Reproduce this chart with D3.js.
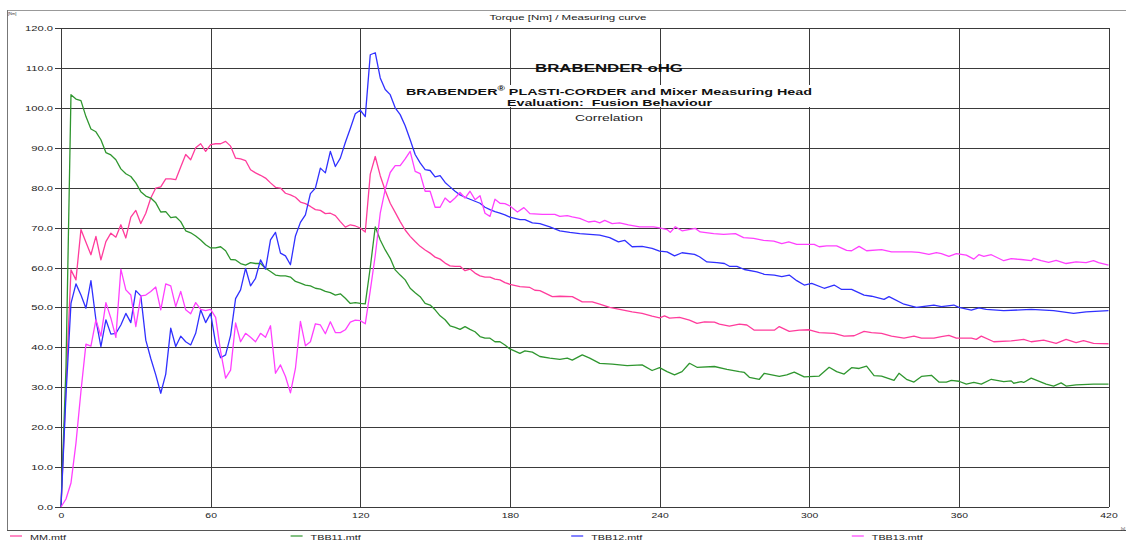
<!DOCTYPE html>
<html>
<head>
<meta charset="utf-8">
<script src="https://cdn.jsdelivr.net/npm/d3@7"></script>
<style>
  body { margin: 0; background: #fff; }
  svg { display: block; font-family: "Liberation Sans", Arial, sans-serif; }
  .grid line { stroke: #3a3a3a; stroke-width: 1; shape-rendering: crispEdges; }
  .axis line { stroke: #3a3a3a; shape-rendering: crispEdges; }
  .axis text { font-size: 8px; fill: #222; }
  .line { fill: none; stroke-width: 1.3; stroke-linejoin: round; }
  .pre { white-space: pre; }
</style>
</head>
<body>
<script>
// Brabender measuring curve: torque [Nm] against time [s]

// Tick labels
var xTicks = [0, 60, 120, 180, 240, 300, 360, 420];
var yTicks = [0, 10, 20, 30, 40, 50, 60, 70, 80, 90, 100, 110, 120];

// Series names and colours (legend order)
var seriesNames = ["MM.mtf", "TBB11.mtf", "TBB12.mtf", "TBB13.mtf"];
var seriesColors = ["#ff3c9c", "#2f962f", "#3030ff", "#ff40ff"];

// Series values, [time s, torque Nm]
var mmData = [[0,0],[2,30],[4,59.4],[6,56.9],[8,69.5],[10,66.3],[12,63.2],[14,67.8],[16,61.9],[18,66.5],[20,68.6],[22,67.6],[24,70.7],[26,67.4],[28,72.6],[30,74.3],[32,71],[34,73.6],[36,77.4],[38,79.9],[40,80.2],[42,82.2],[44,82.2],[46,82],[48,85.2],[50,88.3],[52,87],[54,90],[56,91],[58,89.1],[60,90.8],[62,91],[64,91],[66,91.6],[68,90.4],[70,87.4],[72,87.2],[74,86.8],[76,84.5],[78,83.7],[80,83.1],[82,82.4],[84,81.2],[86,80.1],[88,79.9],[90,78.6],[92,78.2],[94,77.6],[96,76.4],[98,76],[100,75.3],[102,74.5],[104,74.3],[106,73.5],[108,73.6],[110,73],[112,71.5],[114,70.1],[116,70.7],[118,70.4],[120,69.9],[122,68.9],[124,83.4],[126,87.8],[128,83],[130,79.3],[132,76.1],[134,73.8],[136,71.5],[138,69.4],[140,67.8],[142,66.5],[144,65.3],[146,64.4],[148,63.6],[150,62.6],[152,62.1],[154,61.1],[156,60.4],[158,60.3],[160,60.3],[162,59.2],[164,59.6],[166,58.6],[168,57.9],[170,57.6],[172,57.6],[174,57.1],[176,56.9],[178,56.2],[180,55.8],[184,55.2],[188,55],[190,54.3],[192,54.2],[197,52.7],[200,52.8],[205,52.7],[209,51.4],[213,51.4],[216,50.8],[220,50],[224,49.5],[229,48.9],[233,48.5],[237,47.8],[240,47.4],[242,47.9],[244,47.3],[248,47.5],[252,46.8],[255,46],[258,46.4],[262,46.3],[264,45.8],[268,45.3],[272,45.8],[275,45.6],[278,44.3],[286,44.3],[288,45.2],[292,44],[296,44.3],[300,44.4],[304,43.7],[310,43.5],[314,42.8],[318,42.9],[322,44],[325,43.7],[329,43.5],[333,42.8],[338,42.3],[342,42.8],[345,42.3],[350,42.3],[353,42.7],[356,43],[359,42.3],[365,42.3],[367,42],[369,42.8],[374,41.4],[381,41.6],[386,42],[389,41.4],[394,41.8],[399,41],[403,42],[407,41.2],[410,41.7],[414,41],[420,40.9]];

var tbb11Data = [[0,0],[2,35],[4,103.3],[6,102.2],[8,101.8],[10,97.8],[12,94.7],[14,94],[16,92],[18,88.8],[20,88.2],[22,87],[24,84.7],[26,83.5],[28,82.8],[30,81.2],[32,79],[34,77.9],[36,77.4],[38,76.2],[40,73.9],[42,74],[44,72.5],[46,72.7],[48,71.5],[50,69.2],[52,68.7],[54,67.9],[56,66.9],[58,65.7],[60,64.9],[62,64.9],[64,65.2],[66,64.2],[68,62],[70,61.9],[72,61],[74,60.6],[76,61.2],[78,61],[80,61],[82,59.8],[84,59],[86,58.1],[88,57.9],[90,57.9],[92,57.6],[94,56.5],[96,56.1],[98,55.6],[100,55.4],[102,54.8],[104,54.6],[106,54],[108,53.7],[110,53.1],[112,53.4],[114,52.3],[116,51],[118,51.2],[120,51],[122,50.9],[124,60],[126,70.2],[128,66.9],[130,64.4],[132,62.3],[134,59.4],[136,58.1],[138,56.9],[140,54.8],[142,53.7],[144,52.7],[146,51],[148,50.6],[150,49.4],[152,47.9],[154,46.9],[156,45.4],[158,45],[160,44.5],[162,45.2],[164,44.5],[166,43.9],[168,42.7],[170,42.3],[172,42.3],[174,41.4],[176,41.4],[178,40.6],[180,39.6],[184,38.5],[186,39.1],[189,38.8],[192,37.7],[196,37.3],[200,37],[203,37.3],[205,36.8],[209,38.1],[212,37.3],[216,36],[221,35.8],[227,35.4],[233,35.6],[237,34.2],[240,34.9],[243,33.9],[246,33.1],[249,33.9],[252,36],[255,35],[262,35.2],[267,34.5],[272,33.9],[274,33.7],[276,32.5],[280,32],[282,33.5],[288,32.7],[291,33.1],[294,33.8],[298,32.6],[304,32.8],[308,35],[311,33.9],[314,33.3],[317,34.9],[320,34.7],[323,35.3],[326,32.9],[329,32.8],[334,31.7],[336,33.5],[339,32],[342,31.3],[345,32.7],[349,33],[352,31.3],[355,31.3],[357,31.7],[360,31.5],[363,30.8],[366,31.2],[369,30.8],[373,32],[378,31.4],[381,31.6],[382,31],[385,31.4],[386,31.2],[389,32.3],[395,30.8],[398,30.3],[401,31.1],[403,30.3],[407,30.6],[414,30.8],[420,30.8]];

var tbb12Data = [[0,0],[2,28],[4,51],[6,55.9],[8,53.1],[10,49.8],[12,56.7],[14,46.9],[16,40.2],[18,46.9],[20,43.3],[22,43.5],[24,45.6],[26,48.5],[28,46.2],[30,54.2],[32,52.9],[34,41.8],[36,37.2],[38,33.1],[40,28.5],[42,33.3],[44,44.8],[46,40.2],[48,42.8],[50,41.4],[52,40.6],[54,43.5],[56,49.4],[58,46.2],[60,48.5],[62,41],[64,37.4],[66,38.1],[68,43],[70,52.2],[72,54.4],[74,59.8],[76,55.4],[78,57.3],[80,61.9],[82,59.6],[84,66.9],[86,68.8],[88,63.6],[90,62.9],[92,60.7],[94,67.9],[96,71.3],[98,73.2],[100,78.5],[102,79.9],[104,84.9],[106,83.7],[108,89.1],[110,85.3],[112,87.4],[114,91.3],[116,94.8],[118,98.5],[120,99.4],[122,97.8],[124,113.3],[126,113.8],[128,107.5],[130,104.6],[132,103.3],[134,100],[136,98.3],[138,95.5],[140,92],[142,88.3],[144,86.2],[146,84.5],[148,84.3],[150,82.7],[152,83],[154,81.3],[156,80.2],[158,79.1],[160,78.2],[162,77.6],[164,77.1],[166,76.6],[168,76.1],[170,75.1],[172,74.5],[174,74],[176,73.6],[178,73.2],[180,72.6],[184,72],[186,72],[189,71.2],[192,71],[196,70.2],[200,69.2],[204,68.8],[208,68.5],[212,68.3],[216,68.1],[220,67.5],[223.5,66.4],[226,66.8],[229,65.2],[233,65.3],[237,64.8],[240,64.1],[243,63.9],[246,62.9],[249,63.7],[254,63.3],[256,62.7],[259,61.4],[263,61.2],[266,61],[268,60.3],[271,60.3],[274,59.5],[279,58.9],[282,58.3],[286,58.1],[289,57.7],[292,58.1],[295,56.7],[298,55.6],[301,56],[306,54.8],[310,55.6],[313,54.5],[317,54.5],[322,53.1],[325,52.8],[330,52],[332,52.7],[338,50.8],[343,50],[350,50.6],[353,50.2],[358,50.6],[360,50],[365,49.3],[368,49.9],[371,49.5],[378,49.2],[389,49.5],[398,49.2],[406,48.5],[411,48.9],[420,49.2]];

var tbb13Data = [[0,0],[2,2],[4,6],[6,16],[8,29],[10,40.8],[12,40.3],[14,46.9],[16,42.8],[18,51.2],[20,47.3],[22,42.5],[24,59.6],[26,54.4],[28,53.1],[30,45.2],[32,52.9],[34,53.1],[36,54],[38,55.1],[40,49.4],[42,55.9],[44,55.4],[46,50.2],[48,54],[50,49.4],[52,48.4],[54,51.2],[56,49.5],[58,49.2],[60,49.5],[62,47.5],[64,39],[66,32.3],[68,34.3],[70,46.1],[72,41.4],[74,43.5],[76,42.5],[78,41.4],[80,43.5],[82,42.5],[84,45.4],[86,33.5],[88,35.6],[90,32.7],[92,28.6],[94,34.7],[96,46.5],[98,40.4],[100,41.4],[102,45.9],[104,45.6],[106,43.4],[108,46.4],[110,43.7],[112,43.7],[114,44.4],[116,46.3],[118,46.8],[120,46.7],[122,45.9],[124,54.2],[126,63],[128,73.6],[130,79.6],[132,83.8],[134,85.5],[136,85.5],[138,87.2],[140,89.1],[142,84.1],[144,83.5],[146,79.1],[148,79.1],[150,75.1],[152,75.1],[154,77.4],[156,76.3],[158,77.4],[160,78.8],[162,77.4],[164,79.1],[166,77],[168,78],[170,73.6],[172,72.8],[174,77.1],[176,76.1],[178,76],[180,75.4],[183,73.9],[185.6,75],[188,73.5],[193,73.3],[198,73.3],[200,72.8],[203,73],[205,72.7],[208,72.3],[211.5,71.4],[214,71.6],[216,71.2],[218,71.8],[221,71],[224,71.2],[227.5,70.7],[232,70.2],[237.6,70.2],[240,69.9],[243,69.5],[244.3,68.8],[246.3,70.2],[249,69.2],[251.7,69.5],[254.3,69.8],[256.3,68.9],[261.7,68.5],[265.7,68.3],[270.4,68.5],[273.7,67.5],[277.7,67.3],[281.7,66.8],[285.8,66.6],[289,66],[291.8,66.4],[295,65.8],[302,65.8],[304,65.2],[307,65.4],[311,65.4],[315,64.3],[317,64.2],[320,65.3],[323,64.2],[329,64.5],[333,63.9],[341,63.9],[344,63.8],[348,63.3],[351,63.7],[353,63.5],[356,62.8],[359,63.5],[363,63.1],[366,62.1],[368,63.2],[370,62.8],[373,63.2],[378,61.7],[381,62.2],[385,62],[389,61.7],[390,62.3],[393,61.7],[396,61.3],[399,61.8],[403,61],[407,61.4],[411,61.2],[414,61.7],[416,61.2],[420,60.6]];

var seriesData = [mmData, tbb11Data, tbb12Data, tbb13Data];

// Page dimensions
var W = 1126, H = 540;
var margin = { top: 28, left: 61 },
  width = 1047.5,
  height = 479;

// Stretch text horizontally (the original print is wide and low)
function stretch(sel, sx) {
  sel.each(function() {
    var t = d3.select(this);
    var tx = +t.attr("x") || 0, ty = +t.attr("y") || 0;
    t.attr("x", null).attr("y", null)
      .attr("transform", "translate(" + tx + "," + ty + ") scale(" + sx + ",1)");
  });
}

var svg = d3.select("body")
  .append("svg")
  .attr("width", W)
  .attr("height", H);

// Outer frame
svg.append("line").attr("x1", 7).attr("x2", W).attr("y1", 10.5).attr("y2", 10.5)
  .attr("stroke", "#999").attr("shape-rendering", "crispEdges");
svg.append("line").attr("x1", 7.5).attr("x2", 7.5).attr("y1", 10).attr("y2", 531)
  .attr("stroke", "#777").attr("shape-rendering", "crispEdges");
svg.append("line").attr("x1", 7).attr("x2", W).attr("y1", 530.5).attr("y2", 530.5)
  .attr("stroke", "#555").attr("shape-rendering", "crispEdges");

// Tiny unit labels
svg.append("text").attr("x", 8).attr("y", 14.5).attr("font-size", 4).attr("fill", "#333").text("[Nm]");
svg.append("text").attr("x", 1121).attr("y", 530).attr("font-size", 4).attr("fill", "#333").text("[s]");

// Title above the plot
svg.append("text")
  .attr("x", 568).attr("y", 19.5)
  .attr("text-anchor", "middle")
  .attr("font-size", 7.5)
  .attr("fill", "#222")
  .attr("textLength", 157).attr("lengthAdjust", "spacingAndGlyphs")
  .text("Torque [Nm] / Measuring curve");

var chart = svg.append("g")
  .attr("transform", "translate(" + margin.left + "," + margin.top + ")");

// Scales
var x = d3.scaleLinear().domain([0, 420]).range([0, width]);
var y = d3.scaleLinear().domain([0, 120]).range([height, 0]);

// Grid lines
chart.append("g")
  .attr("class", "grid")
  .call(d3.axisLeft(y).tickValues(yTicks).tickSize(-width).tickFormat(""))
  .call(function(g) { g.select(".domain").remove(); });

chart.append("g")
  .attr("class", "grid")
  .attr("transform", "translate(0," + height + ")")
  .call(d3.axisBottom(x).tickValues(xTicks).tickSize(-height).tickFormat(""))
  .call(function(g) { g.select(".domain").remove(); });

// Axes with labels
var yAxis = chart.append("g")
  .attr("class", "axis")
  .call(d3.axisLeft(y).tickValues(yTicks).tickSize(6).tickPadding(2).tickFormat(d3.format(".1f")));
yAxis.select(".domain").remove();
stretch(yAxis.selectAll("text"), 1.4);

var xAxis = chart.append("g")
  .attr("class", "axis")
  .attr("transform", "translate(0," + height + ")")
  .call(d3.axisBottom(x).tickValues(xTicks).tickSize(0).tickPadding(5));
xAxis.select(".domain").remove();
stretch(xAxis.selectAll("text"), 1.3);

// Heading block inside the plot
svg.append("text")
  .attr("x", 609).attr("y", 71.5)
  .attr("text-anchor", "middle")
  .attr("font-size", 11.5).attr("font-weight", "bold").attr("fill", "#111")
  .attr("textLength", 148).attr("lengthAdjust", "spacingAndGlyphs")
  .text("BRABENDER oHG");

svg.append("rect")
  .attr("x", 404).attr("y", 85).attr("width", 410).attr("height", 22)
  .attr("fill", "#fff");

var sub = svg.append("text")
  .attr("x", 609).attr("y", 95)
  .attr("text-anchor", "middle")
  .attr("font-size", 9.3).attr("font-weight", "bold").attr("fill", "#111")
  .attr("textLength", 406).attr("lengthAdjust", "spacingAndGlyphs");
sub.append("tspan").text("BRABENDER");
sub.append("tspan").attr("dy", -4).attr("font-size", 6.5).text("®");
sub.append("tspan").attr("dy", 4).text(" PLASTI-CORDER and Mixer Measuring Head");

svg.append("text")
  .attr("class", "pre")
  .attr("x", 609.5).attr("y", 105.5)
  .attr("text-anchor", "middle")
  .attr("font-size", 9.2).attr("font-weight", "bold").attr("fill", "#111")
  .attr("textLength", 205).attr("lengthAdjust", "spacingAndGlyphs")
  .text("Evaluation:  Fusion Behaviour");

svg.append("text")
  .attr("x", 609).attr("y", 120.5)
  .attr("text-anchor", "middle")
  .attr("font-size", 8.8).attr("fill", "#222")
  .attr("textLength", 68).attr("lengthAdjust", "spacingAndGlyphs")
  .text("Correlation");

// Curves
var valueline = d3.line()
  .x(function(d) { return x(d[0]); })
  .y(function(d) { return y(d[1]); });

seriesData.forEach(function(data, i) {
  chart.append("path")
    .attr("class", "line")
    .attr("stroke", seriesColors[i])
    .attr("d", valueline(data));
});

// Legend along the bottom
var legend = svg.selectAll(".legend")
  .data(seriesNames)
  .enter().append("g")
  .attr("class", "legend")
  .attr("transform", function(d, i) { return "translate(" + (10 + i * 280.6) + ",0)"; });

legend.append("line")
  .attr("x1", 0).attr("x2", 12)
  .attr("y1", 536).attr("y2", 536)
  .attr("stroke", function(d, i) { return seriesColors[i]; })
  .attr("stroke-width", 1.2);

var legendText = legend.append("text")
  .attr("x", 20).attr("y", 539.5)
  .attr("font-size", 8).attr("fill", "#222")
  .text(function(d) { return d; });
stretch(legendText, 1.35);
</script>
</body>
</html>
